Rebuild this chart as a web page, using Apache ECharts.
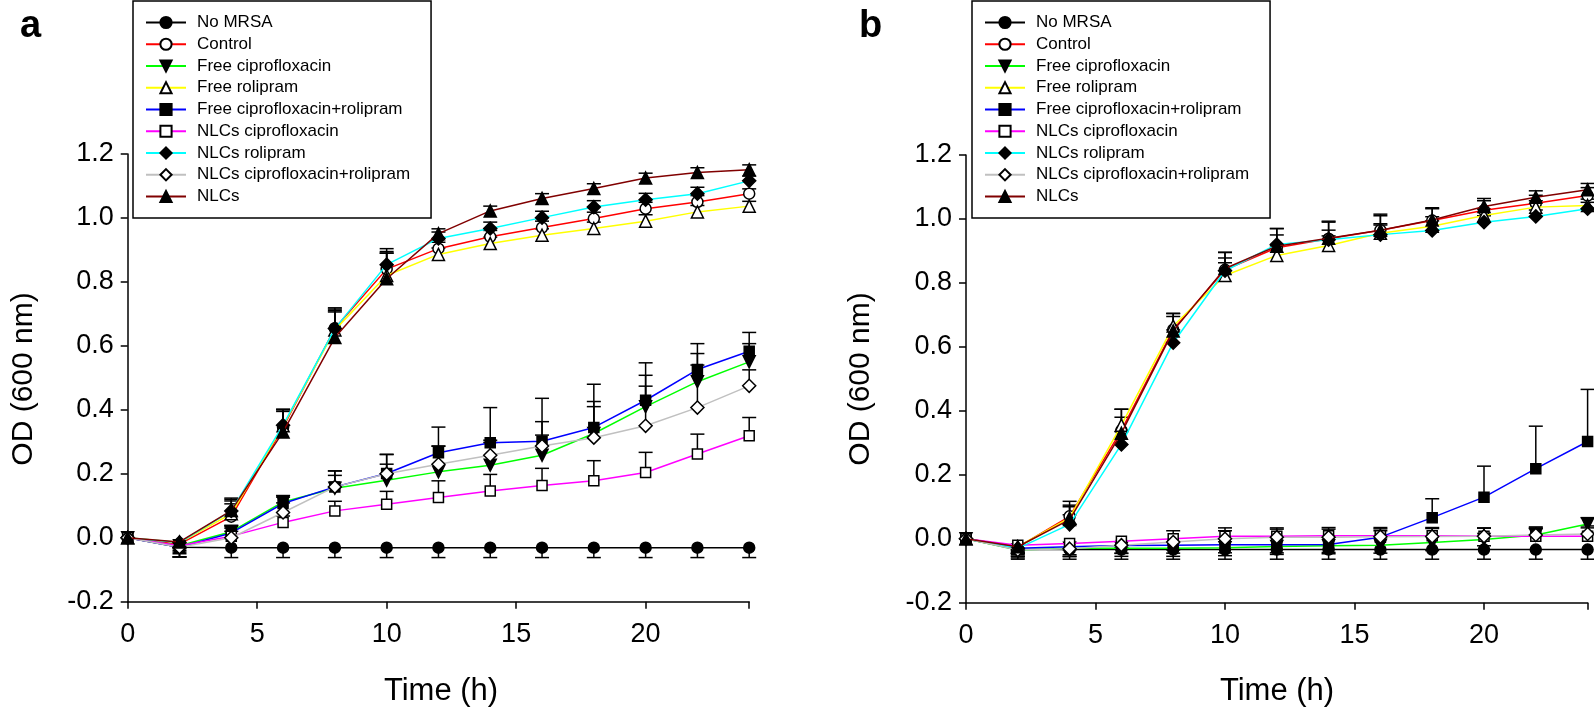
<!DOCTYPE html>
<html>
<head>
<meta charset="utf-8">
<script src="https://cdn.jsdelivr.net/npm/echarts@6/dist/echarts.min.js"></script>
<style>
html,body{margin:0;padding:0;background:#fff;}
#chart{width:1594px;height:716px;}
</style>
</head>
<body>
<div id="chart"></div>
<script>
// ---------- data ----------
const hours = [0, 2, 4, 6, 8, 10, 12, 14, 16, 18, 20, 22, 24];
const seriesNames = ['No MRSA', 'Control', 'Free ciprofloxacin', 'Free rolipram',
  'Free ciprofloxacin+rolipram', 'NLCs ciprofloxacin', 'NLCs rolipram',
  'NLCs ciprofloxacin+rolipram', 'NLCs'];
const yTicks = [-0.2, 0.0, 0.2, 0.4, 0.6, 0.8, 1.0, 1.2];
const xTicks = [0, 5, 10, 15, 20];

// panel a: means
const a_noMRSA   = [0, -0.030, -0.031, -0.031, -0.031, -0.031, -0.031, -0.031, -0.031, -0.031, -0.031, -0.031, -0.031];
const a_control  = [0, -0.020, 0.066, 0.345, 0.655, 0.840, 0.904, 0.941, 0.970, 0.998, 1.029, 1.050, 1.076];
const a_freeCip  = [0, -0.025, 0.019, 0.112, 0.155, 0.180, 0.206, 0.227, 0.258, 0.326, 0.410, 0.488, 0.550];
const a_freeRol  = [0, -0.015, 0.075, 0.350, 0.650, 0.820, 0.886, 0.920, 0.946, 0.967, 0.990, 1.019, 1.037];
const a_freeCR   = [0, -0.030, 0.015, 0.107, 0.159, 0.201, 0.266, 0.297, 0.302, 0.345, 0.430, 0.526, 0.583];
const a_nlcCip   = [0, -0.025, 0.005, 0.048, 0.084, 0.105, 0.126, 0.146, 0.163, 0.178, 0.204, 0.262, 0.319];
const a_nlcRol   = [0, -0.015, 0.084, 0.352, 0.654, 0.854, 0.936, 0.967, 1.001, 1.034, 1.057, 1.076, 1.116];
const a_nlcCR    = [0, -0.030, 0.000, 0.079, 0.159, 0.200, 0.230, 0.258, 0.287, 0.313, 0.350, 0.407, 0.475];
const a_nlcs     = [0, -0.013, 0.085, 0.331, 0.626, 0.810, 0.951, 1.022, 1.061, 1.092, 1.125, 1.142, 1.151];
// panel a: error (SD)
const a_noMRSA_err  = [0, 0.030, 0.031, 0.031, 0.031, 0.031, 0.031, 0.031, 0.031, 0.031, 0.031, 0.031, 0.031];
const a_control_err = [0, 0.020, 0.040, 0.050, 0.060, 0.055, 0.020, 0.020, 0.020, 0.020, 0.020, 0.020, 0.015];
const a_freeCip_err = [0, 0.020, 0.020, 0.020, 0.040, 0.050, 0.080, 0.078, 0.063, 0.100, 0.098, 0.088, 0.057];
const a_freeRol_err = [0, 0.015, 0.040, 0.050, 0.060, 0.070, 0.020, 0.020, 0.020, 0.020, 0.020, 0.020, 0.015];
const a_freeCR_err  = [0, 0.030, 0.020, 0.020, 0.050, 0.060, 0.080, 0.110, 0.134, 0.135, 0.117, 0.081, 0.059];
const a_nlcCip_err  = [0, 0.025, 0.015, 0.020, 0.030, 0.040, 0.052, 0.052, 0.054, 0.063, 0.063, 0.062, 0.057];
const a_nlcRol_err  = [0, 0.015, 0.040, 0.050, 0.065, 0.050, 0.020, 0.020, 0.020, 0.020, 0.020, 0.020, 0.015];
const a_nlcCR_err   = [0, 0.030, 0.030, 0.030, 0.050, 0.060, 0.057, 0.040, 0.076, 0.097, 0.124, 0.133, 0.050];
const a_nlcs_err    = [0, 0.015, 0.035, 0.070, 0.080, 0.080, 0.015, 0.015, 0.015, 0.015, 0.015, 0.015, 0.015];

// panel b: means
const b_noMRSA   = [0, -0.034, -0.034, -0.034, -0.034, -0.034, -0.034, -0.034, -0.034, -0.034, -0.034, -0.034, -0.034];
const b_control  = [0, -0.026, 0.070, 0.339, 0.654, 0.841, 0.910, 0.938, 0.965, 0.995, 1.027, 1.049, 1.073];
const b_freeCip  = [0, -0.035, -0.030, -0.030, -0.030, -0.028, -0.024, -0.022, -0.020, -0.012, -0.002, 0.012, 0.046];
const b_freeRol  = [0, -0.025, 0.065, 0.355, 0.665, 0.823, 0.886, 0.917, 0.955, 0.977, 1.011, 1.037, 1.042];
const b_freeCR   = [0, -0.030, -0.025, -0.021, -0.020, -0.019, -0.019, -0.018, 0.005, 0.066, 0.130, 0.219, 0.304];
const b_nlcCip   = [0, -0.020, -0.015, -0.008, 0.000, 0.008, 0.008, 0.009, 0.009, 0.009, 0.008, 0.008, 0.008];
const b_nlcRol   = [0, -0.030, 0.045, 0.295, 0.613, 0.838, 0.920, 0.935, 0.951, 0.964, 0.990, 1.008, 1.032];
const b_nlcCR    = [0, -0.035, -0.031, -0.020, -0.010, 0.000, 0.005, 0.005, 0.006, 0.007, 0.008, 0.012, 0.015];
const b_nlcs     = [0, -0.025, 0.060, 0.330, 0.650, 0.845, 0.915, 0.940, 0.965, 0.997, 1.039, 1.068, 1.091];
// panel b: error (SD)
const b_noMRSA_err  = [0, 0.030, 0.030, 0.030, 0.030, 0.030, 0.030, 0.030, 0.030, 0.030, 0.030, 0.030, 0.030];
const b_control_err = [0, 0.020, 0.047, 0.066, 0.050, 0.055, 0.060, 0.055, 0.050, 0.040, 0.030, 0.025, 0.025];
const b_freeCip_err = [0, 0.020, 0.025, 0.025, 0.025, 0.025, 0.025, 0.025, 0.025, 0.025, 0.020, 0.020, 0.020];
const b_freeRol_err = [0, 0.020, 0.040, 0.050, 0.040, 0.040, 0.030, 0.030, 0.030, 0.030, 0.020, 0.020, 0.020];
const b_freeCR_err  = [0, 0.025, 0.025, 0.025, 0.025, 0.025, 0.025, 0.025, 0.020, 0.059, 0.097, 0.133, 0.163];
const b_nlcCip_err  = [0, 0.020, 0.020, 0.020, 0.025, 0.026, 0.026, 0.026, 0.026, 0.026, 0.026, 0.026, 0.026];
const b_nlcRol_err  = [0, 0.020, 0.030, 0.040, 0.040, 0.040, 0.030, 0.030, 0.030, 0.030, 0.020, 0.020, 0.020];
const b_nlcCR_err   = [0, 0.025, 0.025, 0.025, 0.025, 0.025, 0.025, 0.025, 0.025, 0.025, 0.025, 0.025, 0.025];
const b_nlcs_err    = [0, 0.020, 0.040, 0.050, 0.045, 0.050, 0.055, 0.050, 0.045, 0.035, 0.025, 0.020, 0.020];

const panelA = [a_noMRSA, a_control, a_freeCip, a_freeRol, a_freeCR, a_nlcCip, a_nlcRol, a_nlcCR, a_nlcs];
const panelAErr = [a_noMRSA_err, a_control_err, a_freeCip_err, a_freeRol_err, a_freeCR_err, a_nlcCip_err, a_nlcRol_err, a_nlcCR_err, a_nlcs_err];
const panelB = [b_noMRSA, b_control, b_freeCip, b_freeRol, b_freeCR, b_nlcCip, b_nlcRol, b_nlcCR, b_nlcs];
const panelBErr = [b_noMRSA_err, b_control_err, b_freeCip_err, b_freeRol_err, b_freeCR_err, b_nlcCip_err, b_nlcRol_err, b_nlcCR_err, b_nlcs_err];

// ---------- styles ----------
const FONT = 'Liberation Sans, Arial, Helvetica, sans-serif';
const styles = [
  {color: '#000000', symbol: 'circle',   fill: '#000', size: 11, rot: 0},
  {color: '#ff0000', symbol: 'circle',   fill: '#fff', size: 11, rot: 0},
  {color: '#00ff00', symbol: 'triangle', fill: '#000', size: 12, rot: 180},
  {color: '#ffff00', symbol: 'triangle', fill: '#fff', size: 12, rot: 0},
  {color: '#0000ff', symbol: 'rect',     fill: '#000', size: 10, rot: 0},
  {color: '#ff00ff', symbol: 'rect',     fill: '#fff', size: 10, rot: 0},
  {color: '#00ffff', symbol: 'diamond',  fill: '#000', size: 13, rot: 0},
  {color: '#c0c0c0', symbol: 'diamond',  fill: '#fff', size: 13, rot: 0},
  {color: '#800000', symbol: 'triangle', fill: '#000', size: 12, rot: 0}
];

const chart = echarts.init(document.getElementById('chart'), null, {renderer: 'canvas'});

function makeAxes(idx) {
  const x = {
    type: 'value', gridIndex: idx, min: 0, max: 24, interval: 5,
    axisLine: {show: true, onZero: false, lineStyle: {color: '#000', width: 1.5}},
    axisTick: {show: true, length: 7, lineStyle: {color: '#000', width: 1.5}},
    axisLabel: {fontSize: 27, fontFamily: FONT, color: '#000', margin: 19,
      formatter: v => (xTicks.indexOf(v) >= 0 ? String(v) : '')},
    splitLine: {show: false}
  };
  const y = {
    type: 'value', gridIndex: idx, min: -0.2, max: 1.2, interval: 0.2,
    axisLine: {show: true, onZero: false, lineStyle: {color: '#000', width: 1.5}},
    axisTick: {show: true, length: 7, lineStyle: {color: '#000', width: 1.5}},
    axisLabel: {fontSize: 27, fontFamily: FONT, color: '#000', margin: 14,
      formatter: v => (Math.round(v * 10) / 10).toFixed(1)},
    splitLine: {show: false}
  };
  return {x, y};
}

const axA = makeAxes(0), axB = makeAxes(1);

function errRender(params, api) {
  const x = api.value(0), y = api.value(1), e = api.value(2);
  if (!e) return null;
  const dir = y < 0 ? -1 : 1;
  const p0 = api.coord([x, y]);
  const p1 = api.coord([x, y + dir * e]);
  const hw = 7;
  const st = {stroke: '#000', lineWidth: 1.5};
  return {
    type: 'group',
    children: [
      {type: 'line', shape: {x1: p0[0], y1: p0[1], x2: p1[0], y2: p1[1]}, style: st},
      {type: 'line', shape: {x1: p1[0] - hw, y1: p1[1], x2: p1[0] + hw, y2: p1[1]}, style: st}
    ]
  };
}

const series = [];
function addPanel(vals, errs, gi, tag) {
  vals.forEach((arr, i) => {
    series.push({
      type: 'custom', name: 'err-' + tag + i, xAxisIndex: gi, yAxisIndex: gi,
      renderItem: errRender, clip: false, z: 1, silent: true,
      data: hours.map((h, k) => [h, arr[k], errs[i][k]])
    });
  });
  vals.forEach((arr, i) => {
    const s = styles[i];
    series.push({
      type: 'line', name: seriesNames[i], xAxisIndex: gi, yAxisIndex: gi,
      data: hours.map((h, k) => [h, arr[k]]),
      symbol: s.symbol, symbolSize: s.size, symbolRotate: s.rot,
      showAllSymbol: true, clip: false, z: 2 + i * 0.01, animation: false,
      lineStyle: {color: s.color, width: 1.5},
      itemStyle: {color: s.fill, borderColor: '#000', borderWidth: 1.5}
    });
  });
}
addPanel(panelA, panelAErr, 0, 'a');
addPanel(panelB, panelBErr, 1, 'b');

function makeLegend(left) {
  return {
    left: left, top: 1, orient: 'vertical',
    padding: [13, 21, 13, 12],
    borderColor: '#000', borderWidth: 1.5, borderRadius: 0,
    itemWidth: 40, itemHeight: 14, itemGap: 4.75,
    selectedMode: false,
    textStyle: {fontSize: 17, fontFamily: FONT, color: '#000', lineHeight: 17, padding: [0, 0, 0, 6]},
    data: seriesNames
  };
}

const option = {
  backgroundColor: '#fff',
  animation: false,
  grid: [
    {left: 127.7, top: 154, width: 621.5, height: 447.7},
    {left: 966, top: 155, width: 621.6, height: 447.7}
  ],
  xAxis: [axA.x, axB.x],
  yAxis: [axA.y, axB.y],
  legend: [makeLegend(133), makeLegend(972)],
  series: series,
  graphic: [
    {type: 'text', left: 20, top: 8, style: {text: 'a', font: 'bold 38px ' + FONT, fill: '#000'}},
    {type: 'text', left: 859, top: 8, style: {text: 'b', font: 'bold 38px ' + FONT, fill: '#000'}},
    {type: 'text', x: 24, y: 379, rotation: Math.PI / 2,
      style: {text: 'OD (600 nm)', font: '30px ' + FONT, fill: '#000', textAlign: 'center', textVerticalAlign: 'middle'}},
    {type: 'text', x: 861, y: 379, rotation: Math.PI / 2,
      style: {text: 'OD (600 nm)', font: '30px ' + FONT, fill: '#000', textAlign: 'center', textVerticalAlign: 'middle'}},
    {type: 'text', x: 441, y: 691,
      style: {text: 'Time (h)', font: '31px ' + FONT, fill: '#000', textAlign: 'center', textVerticalAlign: 'middle'}},
    {type: 'text', x: 1277, y: 691,
      style: {text: 'Time (h)', font: '31px ' + FONT, fill: '#000', textAlign: 'center', textVerticalAlign: 'middle'}}
  ]
};
chart.setOption(option);
</script>
</body>
</html>
